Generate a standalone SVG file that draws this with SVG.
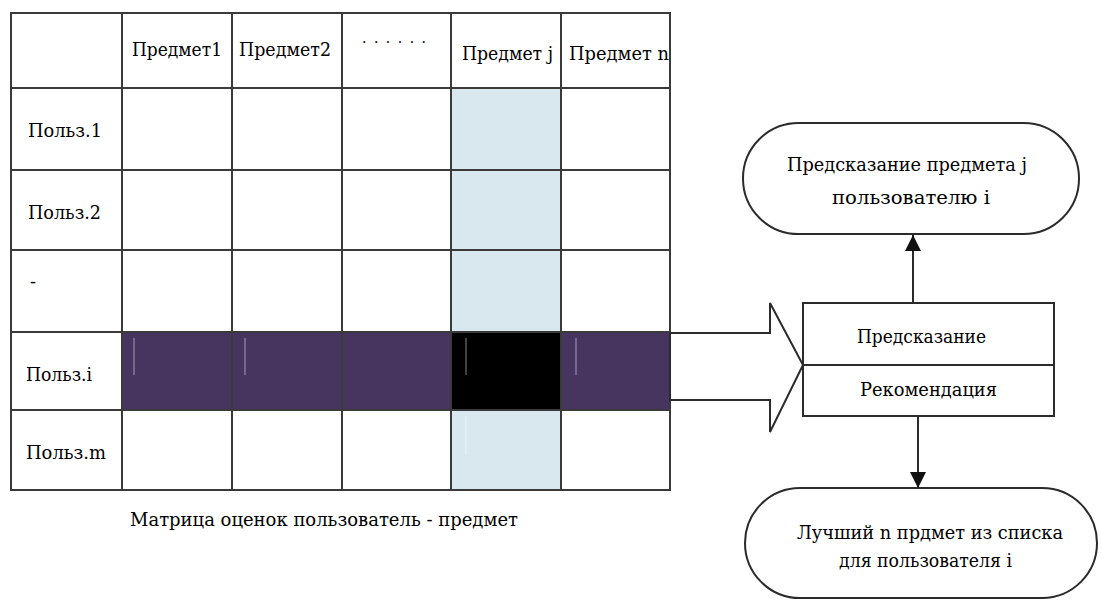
<svg xmlns="http://www.w3.org/2000/svg" width="1101" height="604" viewBox="0 0 1101 604">
  <defs>
    <style>
      .t { font-family: "DejaVu Serif", "Liberation Serif", serif; font-size: 18px; fill: #000000; }
      .grid { stroke: #3a3a3a; stroke-width: 2; fill: none; }
      .shape { fill: #ffffff; stroke: #2b2b2b; stroke-width: 2; }
      .conn { stroke: #2b2b2b; stroke-width: 2; fill: none; }
      .glint { stroke: #ffffff; stroke-opacity: 0.35; stroke-width: 1.5; }
    </style>
    <marker id="arrow" viewBox="0 0 16 16" refX="16" refY="8" markerWidth="16" markerHeight="16" markerUnits="userSpaceOnUse" orient="auto">
      <path d="M0,0 L16,8 L0,16 Z" fill="#111111"/>
    </marker>
  </defs>

  <rect width="1101" height="604" fill="#ffffff"/>

  <!-- Rating matrix: users x items -->
  <g id="matrix">
    <!-- highlighted item column j -->
    <rect x="451" y="88" width="110" height="402" fill="#d9e7ef"/>
    <!-- highlighted user row i -->
    <rect x="122" y="332" width="548" height="78" fill="#47345f"/>
    <rect x="451" y="332" width="110" height="78" fill="#000000"/>
    <line class="glint" x1="134" y1="338" x2="134" y2="375"/>
    <line class="glint" x1="245" y1="338" x2="245" y2="375"/>
    <line class="glint" x1="466" y1="338" x2="466" y2="375"/>
    <line class="glint" x1="576" y1="338" x2="576" y2="375"/>
    <line class="glint" x1="466" y1="416" x2="466" y2="455"/>

    <!-- grid lines -->
    <rect class="grid" x="11" y="13" width="659" height="477"/>
    <line class="grid" x1="122" y1="13" x2="122" y2="490"/>
    <line class="grid" x1="232" y1="13" x2="232" y2="490"/>
    <line class="grid" x1="342" y1="13" x2="342" y2="490"/>
    <line class="grid" x1="451" y1="13" x2="451" y2="490"/>
    <line class="grid" x1="561" y1="13" x2="561" y2="490"/>
    <line class="grid" x1="11" y1="88" x2="670" y2="88"/>
    <line class="grid" x1="11" y1="170" x2="670" y2="170"/>
    <line class="grid" x1="11" y1="250" x2="670" y2="250"/>
    <line class="grid" x1="11" y1="332" x2="670" y2="332"/>
    <line class="grid" x1="11" y1="410" x2="670" y2="410"/>

    <!-- column headers -->
    <text class="t" x="132" y="56" textLength="90" lengthAdjust="spacingAndGlyphs">Предмет1</text>
    <text class="t" x="239" y="56" textLength="92" lengthAdjust="spacingAndGlyphs">Предмет2</text>
    <text class="t" x="362" y="47" textLength="64" lengthAdjust="spacing" style="font-size:14px">······</text>
    <text class="t" x="462" y="60" textLength="91" lengthAdjust="spacingAndGlyphs">Предмет j</text>
    <text class="t" x="569" y="60" textLength="100" lengthAdjust="spacingAndGlyphs">Предмет n</text>

    <!-- row headers -->
    <text class="t" x="28" y="137" textLength="74" lengthAdjust="spacingAndGlyphs">Польз.1</text>
    <text class="t" x="28" y="219" textLength="73" lengthAdjust="spacingAndGlyphs">Польз.2</text>
    <text class="t" x="30" y="288">-</text>
    <text class="t" x="26" y="381" textLength="66" lengthAdjust="spacingAndGlyphs">Польз.i</text>
    <text class="t" x="26" y="459" textLength="80" lengthAdjust="spacingAndGlyphs">Польз.m</text>

    <!-- caption -->
    <text class="t" x="130" y="526" textLength="388" lengthAdjust="spacingAndGlyphs">Матрица оценок пользователь - предмет</text>
  </g>

  <!-- Wide block arrow carrying row i into the model -->
  <g id="row-arrow">
    <polygon class="shape" points="670,333 770,333 770,303 803,365 770,432 770,400 670,400"/>
  </g>

  <!-- Prediction / recommendation block -->
  <g id="model">
    <rect class="shape" x="803" y="303" width="251" height="113"/>
    <line class="conn" x1="803" y1="365" x2="1054" y2="365"/>
    <text class="t" x="857" y="343" textLength="129" lengthAdjust="spacingAndGlyphs">Предсказание</text>
    <text class="t" x="860" y="396" textLength="137" lengthAdjust="spacingAndGlyphs">Рекомендация</text>
  </g>

  <!-- Output: single prediction -->
  <g id="prediction">
    <rect class="shape" x="743" y="123" width="336" height="111" rx="55.5" ry="55.5"/>
    <text class="t" x="787" y="171" textLength="240" lengthAdjust="spacingAndGlyphs">Предсказание предмета j</text>
    <text class="t" x="832" y="204" textLength="158" lengthAdjust="spacingAndGlyphs">пользователю i</text>
  </g>

  <!-- Output: top-n recommendation list -->
  <g id="recommendation">
    <rect class="shape" x="745" y="488" width="352" height="110" rx="55" ry="55"/>
    <text class="t" x="797" y="539" textLength="266" lengthAdjust="spacingAndGlyphs">Лучший n прдмет из списка</text>
    <text class="t" x="839" y="567" textLength="173" lengthAdjust="spacingAndGlyphs">для пользователя i</text>
  </g>

  <!-- Connectors -->
  <g id="connectors">
    <line class="conn" x1="913" y1="303" x2="913" y2="235" marker-end="url(#arrow)"/>
    <line class="conn" x1="918" y1="416" x2="918" y2="488" marker-end="url(#arrow)"/>
  </g>
</svg>
